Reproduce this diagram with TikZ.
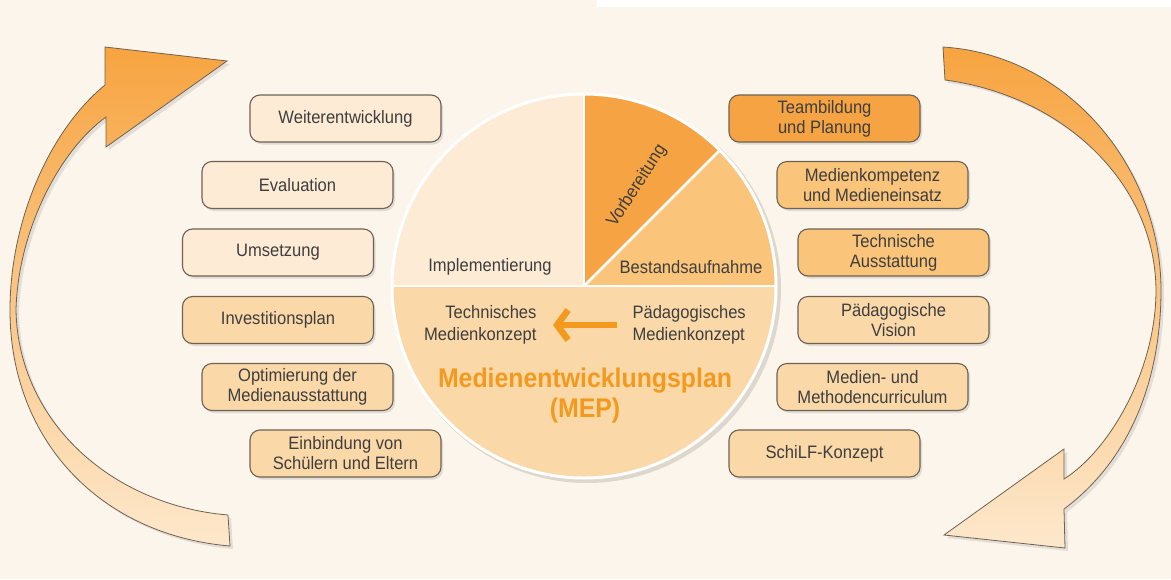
\documentclass[tikz,border=0pt]{standalone}
\usepackage{fontspec}
\setmainfont[FakeStretch=0.92]{Liberation Sans}
\usetikzlibrary{arrows.meta,shadows}

\definecolor{bgcream}{HTML}{FCF5EB}
\definecolor{peachlight}{HTML}{FDEBD5}
\definecolor{peachmid}{HTML}{FBD8A8}
\definecolor{orangemid}{HTML}{FAC47A}
\definecolor{orangedark}{HTML}{F6A443}
\definecolor{meporange}{HTML}{F39A1E}
\definecolor{textgray}{HTML}{3E3E3E}
\definecolor{edgegray}{HTML}{6E6253}
\definecolor{arrowtop}{HTML}{F7A440}
\definecolor{arrowbottom}{HTML}{FDE8CC}

\tikzset{
  stepbox/.style={draw=edgegray, line width=1.1pt, rounded corners=10pt,
    minimum width=191pt, minimum height=47pt, align=center, text=textgray,
    font=\fontsize{18}{20}\selectfont,
    drop shadow={opacity=0.22, shadow xshift=2pt, shadow yshift=-2.5pt}},
  pietext/.style={text=textgray, font=\fontsize{18}{22}\selectfont},
  cyclearrow/.style={draw=edgegray, line width=0.8pt, top color=arrowtop,
    bottom color=arrowbottom,
    drop shadow={opacity=0.2, shadow xshift=3pt, shadow yshift=-3pt}},
}

\begin{document}
\begin{tikzpicture}[x=1pt,y=-1pt]
            % Background
            \useasboundingbox (0,0) rectangle (1171,579);
            \fill[bgcream] (0,0) rectangle (1171,579);
            \fill[white] (597,0) rectangle (1171,7);

            % Cycle arrows
            \draw[cyclearrow] (230,546) .. controls (100,535) and (10,440) .. (10,310)
              .. controls (10,220) and (50,130) .. (105,85) -- (105,47) -- (227,61)
              -- (106,147) -- (106,117) .. controls (60,150) and (18,230) .. (16,310)
              .. controls (18,420) and (110,505) .. (228,515) -- cycle;
            \draw[cyclearrow] (943,47) .. controls (1070,55) and (1161,170) .. (1161,290)
              .. controls (1161,380) and (1130,460) .. (1064,509) -- (1065,548)
              -- (944,535) -- (1064,449) -- (1064,479)
              .. controls (1110,450) and (1156,370) .. (1156,290)
              .. controls (1155,180) and (1060,95) .. (945,80) -- cycle;

            % Pie
            \coordinate (pc) at (584,286);
            \fill[black, opacity=0.12] (587,289) circle[radius=194];
            \fill[peachlight] (pc) -- ++(180:192) arc[start angle=180, end angle=270, radius=192] -- cycle;
            \fill[orangedark] (pc) -- ++(270:192) arc[start angle=270, end angle=315, radius=192] -- cycle;
            \fill[orangemid] (pc) -- ++(315:192) arc[start angle=315, end angle=360, radius=192] -- cycle;
            \fill[peachmid] (pc) -- ++(0:192) arc[start angle=0, end angle=180, radius=192] -- cycle;
            \draw[white, line width=2.5pt] (pc) ++(180:192) -- ++(384,0);
            \draw[white, line width=2.5pt] (pc) -- ++(270:192);
            \draw[white, line width=2.5pt] (pc) -- ++(315:192);
            \draw[white, line width=3pt] (pc) circle[radius=192];

            % Pie labels
            \node[pietext] (impl) at (490,267) {Implementierung};
            \node[pietext] (bestand) at (691,267) {Bestandsaufnahme};
            \node[pietext, rotate=57, inner sep=0pt] (vorb) at (637,186) {Vorbereitung};
            \node[pietext, anchor=east, align=right] (techkonz) at (540,325) {Technisches\\Medienkonzept};
            \node[pietext, anchor=west, align=left] (paedkonz) at (629,325) {Pädagogisches\\Medienkonzept};
            \draw[meporange, line width=6.5pt, -{Straight Barb[length=11pt,width=30pt]},
              shorten <=12pt, shorten >=13pt] (paedkonz) -- (techkonz);
            \node[text=meporange, align=center, font=\bfseries\fontsize{27}{30}\selectfont] (mep) at (585,396) {Medienentwicklungsplan\\(MEP)};

            % Left column
            \node[stepbox, fill=peachlight] (weiter) at (345.5,118.5) {Weiterentwicklung};
            \node[stepbox, fill=peachlight] (eval) at (297.5,185) {Evaluation};
            \node[stepbox, fill=peachlight] (umsetz) at (278,252.5) {Umsetzung};
            \node[stepbox, fill=peachmid] (invest) at (278,320) {Investitionsplan};
            \node[stepbox, fill=peachmid] (optim) at (297.5,387) {Optimierung der\\Medienausstattung};
            \node[stepbox, fill=peachmid] (einbind) at (345.5,453.5) {Einbindung von\\Schülern und Eltern};

            % Right column
            \node[stepbox, fill=orangedark] (team) at (824.5,118.5) {Teambildung\\und Planung};
            \node[stepbox, fill=orangemid] (medkomp) at (872.5,185) {Medienkompetenz\\und Medieneinsatz};
            \node[stepbox, fill=orangemid] (techaus) at (893.5,252.5) {Technische\\Ausstattung};
            \node[stepbox, fill=peachmid] (paedvis) at (893.5,320) {Pädagogische\\Vision};
            \node[stepbox, fill=peachmid] (medcurr) at (872.5,387) {Medien- und\\Methodencurriculum};
            \node[stepbox, fill=peachmid] (schilf) at (824.5,453.5) {SchiLF-Konzept};
        \end{tikzpicture}
\end{document}
